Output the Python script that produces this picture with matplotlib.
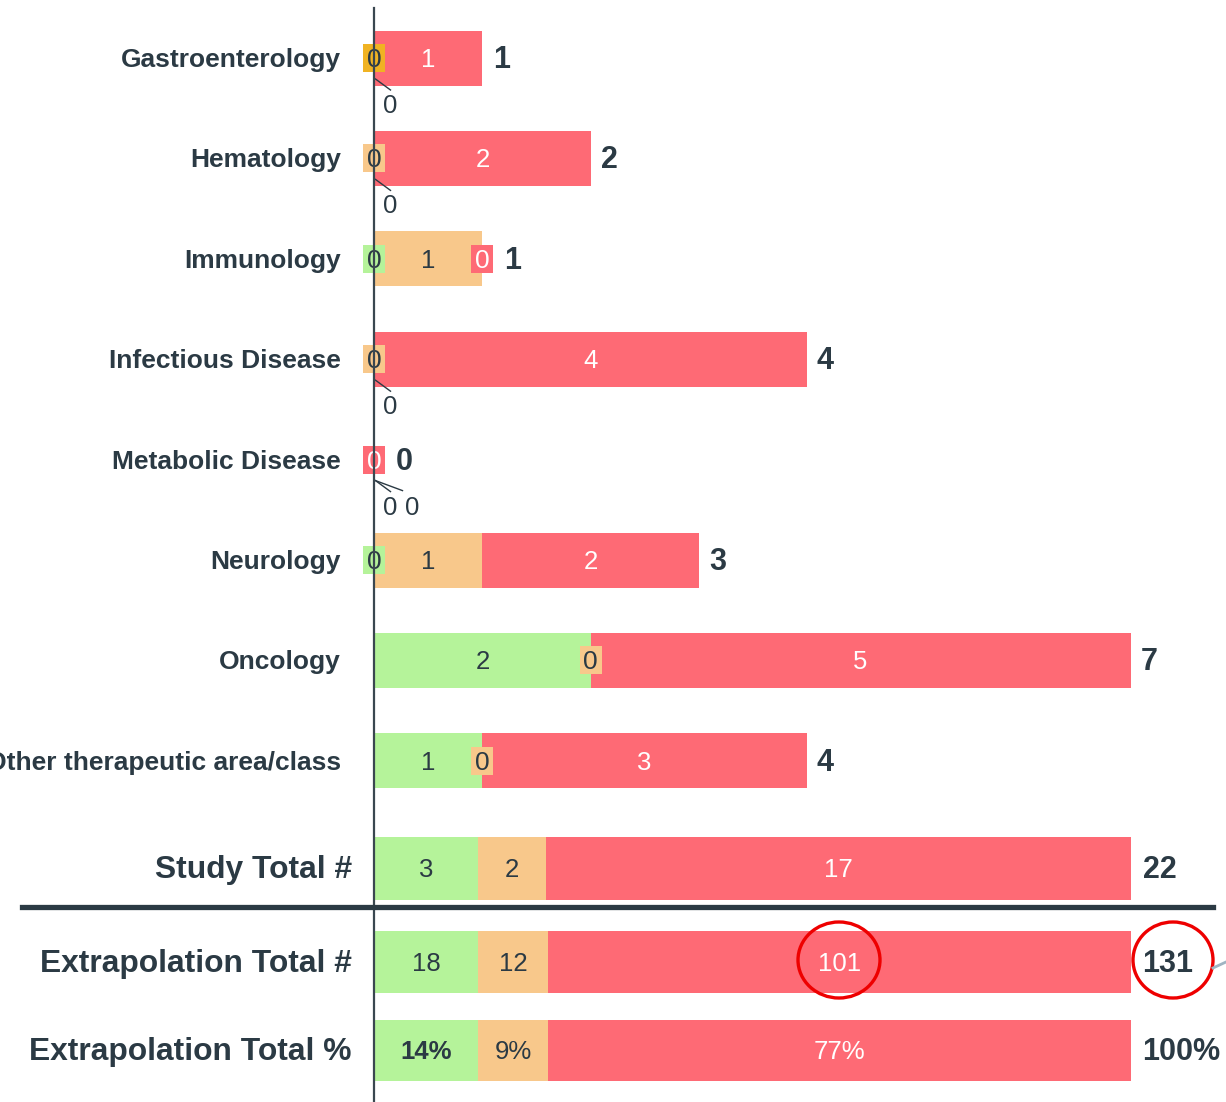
import numpy as np
import matplotlib.pyplot as plt
from matplotlib.patches import Rectangle, Ellipse, Arc

plt.rcParams['font.family'] = ['Liberation Sans', 'DejaVu Sans']

# data
categories = ["Gastroenterology", "Hematology", "Immunology", "Infectious Disease",
              "Metabolic Disease", "Neurology", "Oncology", "Other therapeutic area/class"]
green = [0, 0, 0, 0, 0, 0, 2, 1]
orange = [0, 0, 1, 0, 0, 1, 0, 0]
red = [1, 2, 0, 4, 0, 2, 5, 3]

study_total = [3, 2, 17]
extrap_total = [18, 12, 101]
total_labels = ["Study Total #", "Extrapolation Total #", "Extrapolation Total %"]

# style
C_GREEN = "#b5f39a"
C_ORANGE = "#f8c88b"
C_RED = "#fe6a75"
C_GOLD = "#f0b323"
DARK = "#2b3a44"
seg_colors = [C_GREEN, C_ORANGE, C_RED]
seg_text = [DARK, DARK, "white"]
box_override = {0: C_GOLD}   # row index -> colour of the zero box

PX = 108.0          # pixels per unit
X0 = 374.5          # pixel position of zero
W, H = 1226, 1102
DY = 2              # text baseline nudge (px)


def px(v):
    return v / PX


fig = plt.figure(figsize=(W / 100, H / 100), dpi=100)
ax = fig.add_axes([0, 0, 1, 1])
ax.set_xlim(-X0 / PX, (W - X0) / PX)
ax.set_ylim(H, 0)
ax.axis('off')

row_y = 58 + np.arange(len(categories)) * 100.4
bar_h = 55
fs_in = 18.5
fs_cat = 19
fs_tot = 22

for i, cat in enumerate(categories):
    y = row_y[i]
    vals = [green[i], orange[i], red[i]]
    left = 0
    zeros = {}
    for k, v in enumerate(vals):
        if v > 0:
            ax.barh(y, v, left=left, height=bar_h, color=seg_colors[k], zorder=2)
            ax.text(left + v / 2, y + DY, str(v), ha='center', va='center',
                    fontsize=fs_in, color=seg_text[k], zorder=4)
        else:
            zeros.setdefault(left, []).append(k)
        left += v
    end_px = 0
    for pos, ks in zeros.items():
        # last zero segment at a position gets the box, the others go below
        kb = ks[-1]
        fc = box_override.get(i, seg_colors[kb]) if kb == 1 else seg_colors[kb]
        ax.add_patch(Rectangle((pos - px(11), y - 14), px(22), 28, fc=fc, ec='none', zorder=5))
        ax.text(pos, y + DY, "0", ha='center', va='center', fontsize=fs_in + 0.5,
                color=seg_text[kb], zorder=6)
        if pos == sum(vals):
            end_px = 11
        for j, kd in enumerate(ks[:-1]):
            ex = pos + px(16 + j * 12)
            ax.plot([pos + px(1), ex], [y + 21, y + 32 - j * 1], color=DARK, lw=1.0, zorder=6)
            ax.text(pos + px(16 + j * 22), y + 46 + DY, "0", ha='center', va='center',
                    fontsize=fs_in, color=DARK, zorder=6)
    tot = sum(vals)
    ax.text(tot + px(end_px + 19), y + DY, str(tot), ha='center', va='center', fontsize=fs_tot,
            fontweight='bold', color=DARK)
    ax.text(px(341 - X0), y + DY, cat, ha='right', va='center', fontsize=fs_cat,
            fontweight='bold', color=DARK)

# totals section, scaled to full width of 7 units
full = 7.0
tot_rows = [
    (study_total, [str(v) for v in study_total], str(sum(study_total))),
    (extrap_total, [str(v) for v in extrap_total], str(sum(extrap_total))),
    (extrap_total, ["%d%%" % round(100 * v / sum(extrap_total)) for v in extrap_total], "100%"),
]
tot_y = [868, 962, 1050]
tot_h = [63, 62, 61]
for r, (vals, labs, tl) in enumerate(tot_rows):
    s = sum(vals)
    left = 0
    for k, v in enumerate(vals):
        w = v / s * full
        ax.barh(tot_y[r], w, left=left, height=tot_h[r], color=seg_colors[k], zorder=2)
        bold = (r == 2 and k == 0)
        ax.text(left + w / 2, tot_y[r] + DY, labs[k], ha='center', va='center', fontsize=fs_in,
                color=seg_text[k], fontweight='bold' if bold else 'normal', zorder=4)
        left += w
    ax.text(full + px(12), tot_y[r] + DY, tl, ha='left', va='center', fontsize=fs_tot,
            fontweight='bold', color=DARK)
    ax.text(px(352 - X0), tot_y[r] + DY, total_labels[r], ha='right', va='center',
            fontsize=22.9, fontweight='bold', color=DARK)

# axis line and separator
ax.plot([0, 0], [8, H], color="#3a4750", lw=1.6, zorder=7)
ax.plot([px(22 - X0), px(1213 - X0)], [907, 907], color=DARK, lw=3.8, zorder=7)

# annotations
ax.add_patch(Ellipse((px(839 - X0), 960), px(82), 76, fill=False, ec="#ee0000", lw=2.4, zorder=8))
ax.add_patch(Ellipse((px(1173 - X0), 960), px(80), 76, fill=False, ec="#ee0000", lw=2.4, zorder=8))
ax.plot([px(1213 - X0), px(1226 - X0)], [968, 962], color="#9fb4c2", lw=2, zorder=8)
ax.add_patch(Arc((px(80 - X0), 1108), px(24), 22, theta1=100, theta2=170, ec="#1f6fb5", lw=1.8))

plt.savefig("out.png", dpi=100)
